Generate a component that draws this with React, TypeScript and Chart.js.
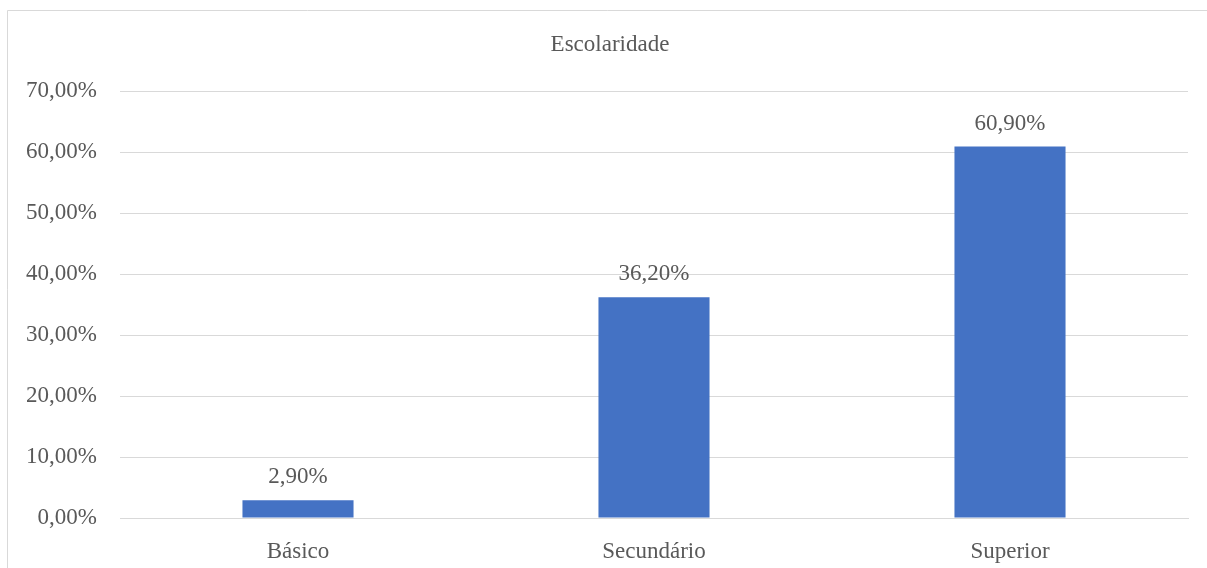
import React, { useEffect, useRef } from "react";
import { Chart, registerables } from "chart.js";

Chart.register(...registerables);

const categories = ["Básico", "Secundário", "Superior"];
const values = [2.9, 36.2, 60.9];
const chartTitle = "Escolaridade";
const yMax = 70;
const yStep = 10;

const fmt = (v: number) => v.toFixed(2).replace(".", ",") + "%";

const FONT = "'Liberation Serif', 'Times New Roman', serif";
const SIZE = 23;
const TEXT = "#595959";
const GRID = "#d9d9d9";
const BAR = "#4472C4";

const frameAndTitle = {
  id: "frameAndTitle",
  beforeDraw(chart: any) {
    const ctx = chart.ctx;
    ctx.save();
    ctx.fillStyle = "#ffffff";
    ctx.fillRect(0, 0, chart.width, chart.height);
    ctx.strokeStyle = GRID;
    ctx.lineWidth = 1;
    ctx.beginPath();
    ctx.moveTo(7.5, chart.height);
    ctx.lineTo(7.5, 10.5);
    ctx.lineTo(chart.width, 10.5);
    ctx.stroke();
    ctx.font = `${SIZE}px ${FONT}`;
    ctx.fillStyle = TEXT;
    ctx.textAlign = "center";
    ctx.textBaseline = "alphabetic";
    ctx.fillText(chartTitle, 610, 51);
    ctx.restore();
  },
};

const valueLabels = {
  id: "valueLabels",
  afterDatasetsDraw(chart: any) {
    const ctx = chart.ctx;
    const meta = chart.getDatasetMeta(0);
    ctx.save();
    ctx.font = `${SIZE}px ${FONT}`;
    ctx.fillStyle = TEXT;
    ctx.textAlign = "center";
    ctx.textBaseline = "middle";
    meta.data.forEach((el: any, i: number) => {
      const v = chart.data.datasets[0].data[i] as number;
      ctx.fillText(fmt(v), el.x, el.y - 23);
    });
    ctx.restore();
  },
};

export default function App() {
  const ref = useRef<HTMLCanvasElement>(null);
  useEffect(() => {
    if (!ref.current) return;
    const chart = new Chart(ref.current, {
      type: "bar",
      data: {
        labels: categories,
        datasets: [
          {
            data: values,
            backgroundColor: BAR,
            barPercentage: 0.312,
            categoryPercentage: 1,
          },
        ],
      },
      options: {
        responsive: false,
        animation: false,
        layout: { padding: { left: 0, right: 19, top: 91, bottom: 0 } },
        plugins: {
          legend: { display: false },
          tooltip: { enabled: false },
          title: { display: false },
        },
        scales: {
          x: {
            grid: { display: false },
            border: { display: true, color: GRID, width: 1 },
            ticks: {
              color: TEXT,
              font: { family: FONT, size: SIZE },
              padding: 12,
            },
            afterFit: (s: any) => {
              s.height = 50;
            },
          },
          y: {
            min: 0,
            max: yMax,
            ticks: {
              stepSize: yStep,
              color: TEXT,
              font: { family: FONT, size: SIZE },
              padding: 23,
              callback: (v: any) => fmt(Number(v)),
            },
            grid: { color: GRID, lineWidth: 1, drawTicks: false },
            border: { display: false },
            afterFit: (s: any) => {
              s.width = 120;
            },
          },
        },
      },
      plugins: [frameAndTitle, valueLabels],
    });
    return () => chart.destroy();
  }, []);

  return (
    <div
      style={{
        position: "fixed",
        left: 0,
        top: 0,
        width: 1207,
        height: 568,
        overflow: "hidden",
        background: "#fff",
      }}
    >
      <canvas
        ref={ref}
        width={1207}
        height={568}
        style={{ position: "absolute", left: 0, top: 0, width: 1207, height: 568 }}
      />
    </div>
  );
}
